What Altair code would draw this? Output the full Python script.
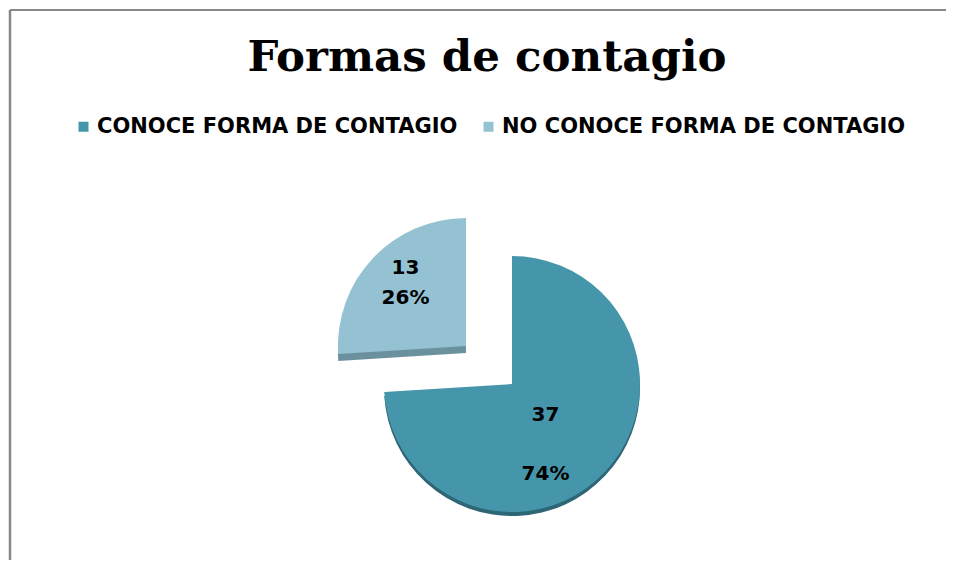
import altair as alt
import pandas as pd

# ---- data ----
categorias = ["CONOCE FORMA DE CONTAGIO", "NO CONOCE FORMA DE CONTAGIO"]
valores = [37, 13]
orden = [0, 1]
colores = ["#4596aa", "#94c2d2"]
colores_borde = ["#2e6676", "#6c919e"]

df = pd.DataFrame({"categoria": categorias, "valor": valores, "orden": orden})

# ---- layout constants (pixels) ----
W, H = 928, 546
CX, CY = 502, 374          # centre of the main pie
EX, EY = -46, -38          # explosion of the second slice
R = 128

base = (
    alt.Chart(df)
    .transform_joinaggregate(total="sum(valor)")
    .transform_window(acum="sum(valor)", sort=[alt.SortField("orden")], frame=[None, 0])
    .transform_calculate(
        inicio="(datum.acum - datum.valor) / datum.total",
        fin="datum.acum / datum.total",
        medio="(datum.acum - datum.valor / 2) / datum.total",
        etiqueta="datum.valor + '\\n' + round(datum.valor / datum.total * 100) + '%'",
    )
)

theta_sc = alt.Scale(domain=[0, 1])
color_enc = alt.Color(
    "categoria:N",
    scale=alt.Scale(domain=categorias, range=colores),
    legend=alt.Legend(
        title=None,
        orient="none",
        legendX=63,
        legendY=106,
        direction="horizontal",
        symbolType="square",
        symbolSize=100,
        symbolStrokeWidth=0,
        labelFont="DejaVu Sans",
        labelFontSize=21,
        labelFontWeight="bold",
        labelColor="black",
        labelLimit=0,
        labelOffset=3,
        columnPadding=20,
        padding=0,
    ),
)


def slice_layers(i, dx, dy, rim, label_r, label_dy, line_h):
    sub = base.transform_filter(alt.datum.orden == orden[i])
    th = alt.Theta("inicio:Q", stack=None, scale=theta_sc)
    th2 = alt.Theta2("fin:Q")
    rim_layer = sub.mark_arc(radius=R, color=colores_borde[i]).encode(
        theta=th, theta2=th2, x=alt.value(CX + dx), y=alt.value(CY + dy + rim)
    )
    face = sub.mark_arc(radius=R).encode(
        theta=th, theta2=th2, color=color_enc, x=alt.value(CX + dx), y=alt.value(CY + dy)
    )
    text = sub.mark_text(
        radius=label_r,
        lineBreak="\n",
        lineHeight=line_h,
        font="DejaVu Sans",
        fontSize=20,
        fontWeight="bold",
        color="black",
        dy=label_dy,
    ).encode(
        theta=alt.Theta("medio:Q", stack=None, scale=theta_sc),
        text="etiqueta:N",
        x=alt.value(CX + dx),
        y=alt.value(CY + dy),
    )
    return rim_layer, face, text


rim0, face0, text0 = slice_layers(0, 0, 0, 4, 46, 0, 59)
rim1, face1, text1 = slice_layers(1, EX, EY, 7, 83, -21, 30)

frame_df = pd.DataFrame({"k": [0]})
top_rule = alt.Chart(frame_df).mark_rule(color="#888888", strokeWidth=2).encode(
    x=alt.value(0), x2=alt.value(W + 8), y=alt.value(0)
)
left_rule = alt.Chart(frame_df).mark_rule(color="#888888", strokeWidth=2.5).encode(
    x=alt.value(0), y=alt.value(0), y2=alt.value(H + 4)
)

chart = (
    alt.layer(top_rule, left_rule, rim0, rim1, face0, face1, text0, text1)
    .properties(
        width=W,
        height=H,
        padding=0,
        background="white",
        title=alt.TitleParams(
            text="Formas de contagio",
            font="DejaVu Serif",
            fontSize=43.5,
            fontWeight="bold",
            color="black",
            anchor="middle",
            baseline="alphabetic",
            offset=-106,
            dx=13,
        ),
    )
    .configure_view(strokeWidth=0)
)

chart.save("out.html", embed_options={"renderer": "svg", "actions": False})
